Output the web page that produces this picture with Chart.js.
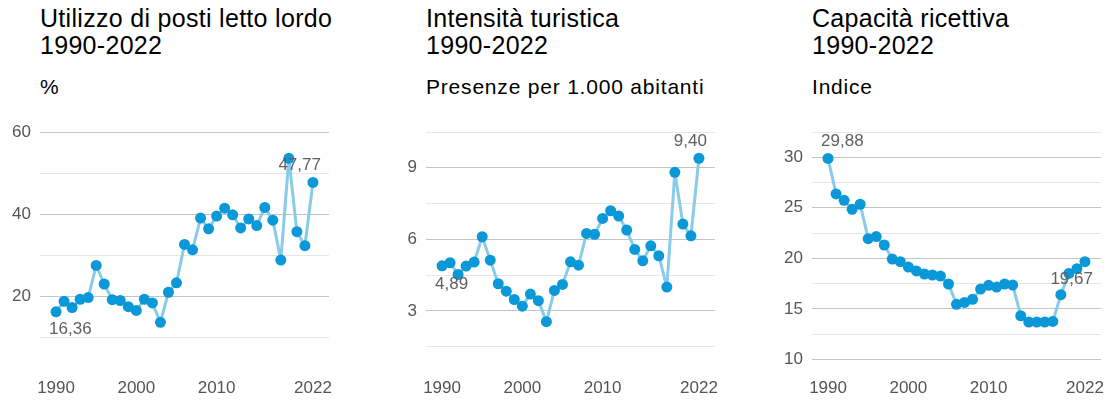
<!DOCTYPE html>
<html>
<head>
<meta charset="utf-8">
<script src="https://cdn.jsdelivr.net/npm/chart.js@4.4.1/dist/chart.umd.min.js"></script>
<style>
  body { margin: 0; background: #fff; font-family: "Liberation Sans", Arial, sans-serif; }
  .panel { position: absolute; top: 0; width: 386px; height: 403px; }
  .title { position: absolute; left: 40px; top: 5px; font-size: 25px; line-height: 27px; letter-spacing: 0.3px; color: #000; white-space: nowrap; }
  .sub { position: absolute; left: 40px; top: 76px; font-size: 21px; line-height: 21px; letter-spacing: 0.8px; color: #000; white-space: nowrap; }
  canvas { position: absolute; left: 0; top: 100px; }
</style>
</head>
<body>
<div class="panel" style="left:0">
  <div class="title">Utilizzo di posti letto lordo<br>1990-2022</div>
  <div class="sub">%</div>
  <canvas id="c1" width="386" height="303"></canvas>
</div>
<div class="panel" style="left:386px">
  <div class="title">Intensità turistica<br>1990-2022</div>
  <div class="sub">Presenze per 1.000 abitanti</div>
  <canvas id="c2" width="386" height="303"></canvas>
</div>
<div class="panel" style="left:772px">
  <div class="title">Capacità ricettiva<br>1990-2022</div>
  <div class="sub">Indice</div>
  <canvas id="c3" width="386" height="303"></canvas>
</div>
<script>
// anni
const years = [1990, 1991, 1992, 1993, 1994, 1995, 1996, 1997, 1998, 1999,
  2000, 2001, 2002, 2003, 2004, 2005, 2006, 2007, 2008, 2009,
  2010, 2011, 2012, 2013, 2014, 2015, 2016, 2017, 2018, 2019,
  2020, 2021, 2022];
const xTicks = [1990, 2000, 2010, 2022];

// Utilizzo di posti letto lordo (%)
const utilizzo = [16.36, 18.9, 17.4, 19.4, 19.8, 27.6, 23.1, 19.3, 19.1, 17.6,
  16.7, 19.4, 18.5, 13.8, 21.1, 23.4, 32.7, 31.4, 39.1, 36.5,
  39.6, 41.5, 39.9, 36.7, 38.9, 37.3, 41.7, 38.6, 28.9, 53.6,
  35.8, 32.4, 47.77];
const utilizzoTicks = [10, 20, 30, 40, 50, 60];
const utilizzoLabels = [20, 40, 60];

// Intensità turistica (presenze per 1.000 abitanti)
const intensita = [4.89, 5.02, 4.53, 4.88, 5.05, 6.11, 5.13, 4.14, 3.83, 3.48,
  3.20, 3.71, 3.43, 2.55, 3.86, 4.11, 5.06, 4.92, 6.25, 6.21,
  6.88, 7.20, 6.98, 6.39, 5.58, 5.10, 5.73, 5.31, 4.00, 8.81,
  6.64, 6.15, 9.40];
const intensitaTicks = [1.5, 3, 4.5, 6, 7.5, 9, 10.5];
const intensitaLabels = [3, 6, 9];

// Capacità ricettiva (indice)
const capacita = [29.88, 26.37, 25.74, 24.85, 25.35, 21.95, 22.15, 21.32, 19.93, 19.67,
  19.14, 18.75, 18.45, 18.35, 18.25, 17.46, 15.45, 15.64, 15.94, 16.96,
  17.33, 17.16, 17.46, 17.36, 14.32, 13.70, 13.70, 13.70, 13.76, 16.40,
  18.51, 18.98, 19.67];
const capacitaTicks = [10, 12.5, 15, 17.5, 20, 22.5, 25, 27.5, 30, 32.5];
const capacitaLabels = [10, 15, 20, 25, 30];

const FONT = '"Liberation Sans", Arial, sans-serif';

function fmt(v) {
  return v.toFixed(2).replace('.', ',');
}

// etichette primo / ultimo valore
const endLabels = {
  id: 'endLabels',
  afterDatasetsDraw(chart, args, opts) {
    const meta = chart.getDatasetMeta(0);
    const data = chart.data.datasets[0].data;
    const ctx = chart.ctx;
    ctx.save();
    ctx.font = '17px ' + FONT;
    ctx.fillStyle = '#606060';
    ctx.textBaseline = 'middle';
    [[0, opts.first], [data.length - 1, opts.last]].forEach(([i, pos]) => {
      const pt = meta.data[i];
      ctx.textAlign = i === 0 ? 'left' : 'right';
      const x = i === 0 ? pt.x - 7 : pt.x + 8;
      const y = pos === 'above' ? pt.y - 17 : pt.y + 18;
      ctx.fillText(fmt(data[i].y), x, y);
    });
    ctx.restore();
  }
};

function makeChart(id, values, yMin, yMax, ticks, labelled, first, last) {
  return new Chart(document.getElementById(id), {
    type: 'line',
    data: {
      datasets: [{
        data: years.map((y, i) => ({ x: y, y: values[i] })),
        borderColor: '#88cbea',
        borderWidth: 3,
        borderJoinStyle: 'round',
        borderCapStyle: 'round',
        pointBackgroundColor: '#0b98d8',
        pointBorderColor: '#0b98d8',
        pointRadius: 5.5,
        pointBorderWidth: 0,
        tension: 0,
        clip: false
      }]
    },
    options: {
      responsive: false,
      animation: false,
      layout: { padding: { top: 32, right: 57, bottom: 0, left: 0 } },
      plugins: {
        legend: { display: false },
        tooltip: { enabled: false },
        endLabels: { first: first, last: last }
      },
      scales: {
        x: {
          type: 'linear',
          min: 1988,
          max: 2024,
          afterBuildTicks: s => { s.ticks = xTicks.map(v => ({ value: v })); },
          afterFit: s => { s.height = 43.6; },
          grid: { display: false, drawTicks: false },
          border: { display: false },
          ticks: {
            padding: 19,
            color: '#555',
            font: { size: 17, family: FONT },
            maxRotation: 0,
            autoSkip: false,
            callback: v => String(v)
          }
        },
        y: {
          min: yMin,
          max: yMax,
          afterBuildTicks: s => { s.ticks = ticks.map(v => ({ value: v })); },
          afterFit: s => { s.width = 40; },
          grid: {
            drawTicks: false,
            color: c => labelled.includes(c.tick.value) ? '#c0c6c6' : '#e6e6e6',
            lineWidth: 1
          },
          border: { display: false },
          ticks: {
            padding: 9,
            color: '#555',
            font: { size: 17, family: FONT },
            autoSkip: false,
            callback: v => labelled.includes(v) ? String(v) : ''
          }
        }
      }
    },
    plugins: [endLabels]
  });
}

makeChart('c1', utilizzo, 4.8, 60, utilizzoTicks, utilizzoLabels, 'below', 'above');
makeChart('c2', intensita, 0.97, 10.5, intensitaTicks, intensitaLabels, 'below', 'above');
makeChart('c3', capacita, 10, 32.5, capacitaTicks, capacitaLabels, 'above', 'below');
</script>
</body>
</html>
